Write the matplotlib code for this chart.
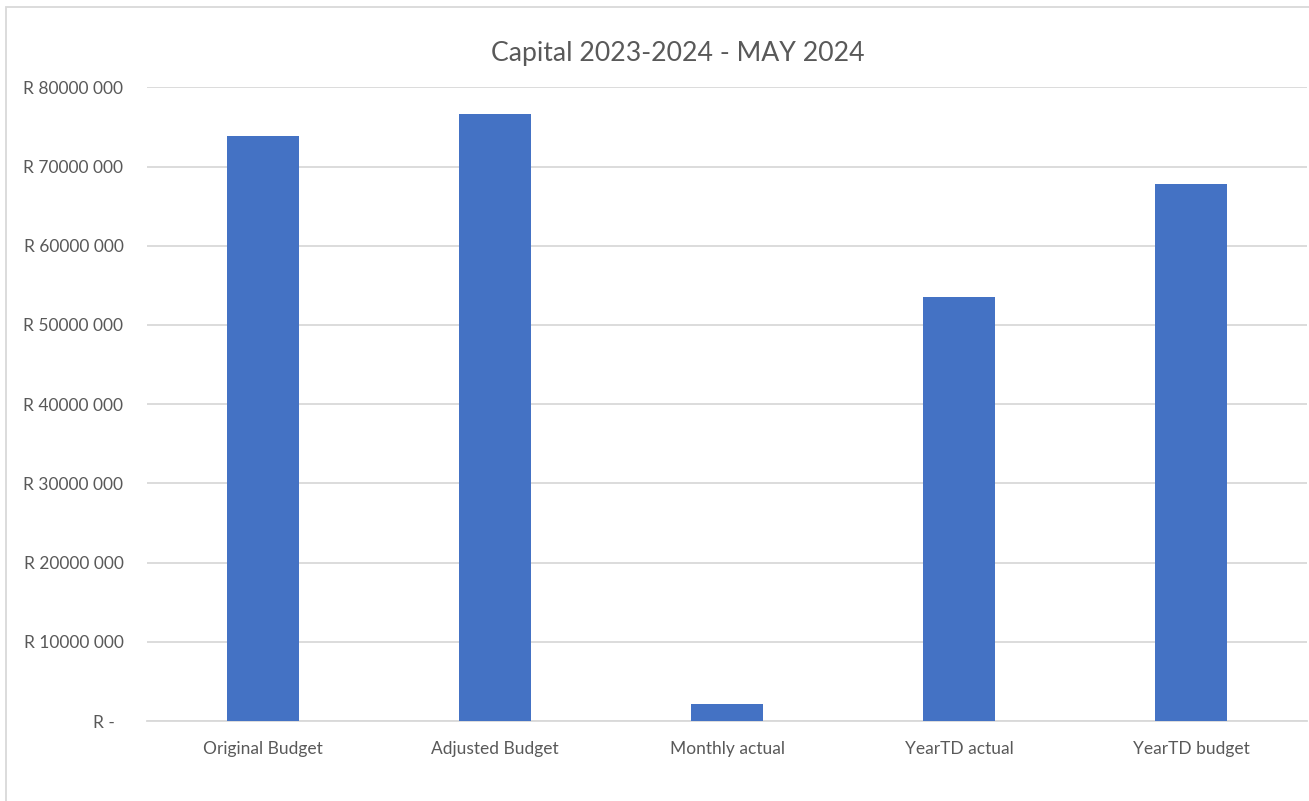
import matplotlib
matplotlib.use("Agg")
import matplotlib.pyplot as plt
from matplotlib.patches import Rectangle

title = "Capital 2023-2024 - MAY 2024"
categories = ["Original Budget", "Adjusted Budget", "Monthly actual", "YearTD actual", "YearTD budget"]
values = [73_800_000, 76_600_000, 2_100_000, 53_500_000, 67_800_000]
ytick_values = [0, 10_000_000, 20_000_000, 30_000_000, 40_000_000, 50_000_000, 60_000_000, 70_000_000, 80_000_000]
ytick_labels = ["R -  ", "R 10000 000", "R 20000 000", "R 30000 000", "R 40000 000",
                "R 50000 000", "R 60000 000", "R 70000 000", "R 80000 000"]

BAR = "#4472C4"
GRID = "#D9D9D9"
TXT = "#595959"

plt.rcParams['font.family'] = ['Lato', 'DejaVu Sans']

W, H = 1309, 801
fig = plt.figure(figsize=(W / 100, H / 100), dpi=100)
fig.patch.set_facecolor("white")

# chart frame
fig.patches.append(Rectangle((6 / W, -0.05), 1.1, (H - 7) / H + 0.05, transform=fig.transFigure,
                             fill=False, edgecolor=GRID, linewidth=1.3, zorder=0))

left, right, bottom, top = 147 / W, 1307 / W, (H - 721) / H, (H - 87.3) / H
ax = fig.add_axes([left, bottom, right - left, top - bottom])
x = list(range(len(categories)))
ax.bar(x, values, width=0.313, color=BAR, zorder=3)
ax.set_xlim(-0.5, len(categories) - 0.5)
ax.set_ylim(0, 80_000_000)
ax.set_yticks(ytick_values)
ax.set_yticklabels(ytick_labels)
ax.set_xticks(x)
ax.set_xticklabels(categories)
ax.tick_params(axis="y", length=0, pad=17, labelsize=12.5, labelcolor=TXT)
ax.tick_params(axis="x", length=0, pad=14.5, labelsize=12.5, labelcolor=TXT)
ax.yaxis.grid(True, color=GRID, linewidth=1.3, zorder=0)
for s in ["top", "right", "left"]:
    ax.spines[s].set_visible(False)
ax.spines["bottom"].set_color(GRID)
ax.spines["bottom"].set_linewidth(1.3)
ax.set_axisbelow(True)

fig.text(678 / W, (H - 53) / H, title, ha="center", va="center", fontsize=19.2, color=TXT)

fig.savefig("out.png", dpi=100, facecolor="white")
